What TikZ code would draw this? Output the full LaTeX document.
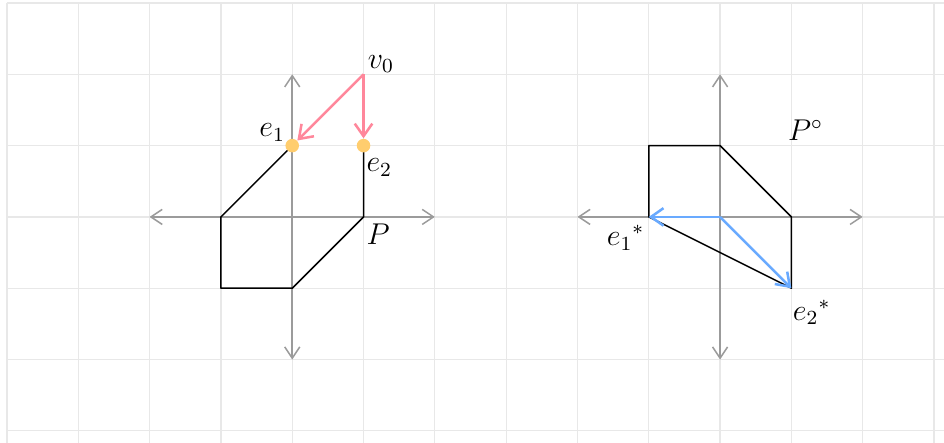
\documentclass[tikz,border=0pt]{standalone}
\usepackage{amsmath,amssymb}
\usepackage{tikz}
\usetikzlibrary{arrows.meta,positioning,calc}
\usepackage{xcolor}
\definecolor{cGrid}{RGB}{232,232,232}
\definecolor{cAxis}{RGB}{155,155,155}
\definecolor{cPink}{RGB}{255,135,155}
\definecolor{cDot}{RGB}{255,205,110}
\definecolor{cSky}{RGB}{105,170,255}
\tikzset{
  gridline/.style={draw=cGrid,line width=0.5pt},
  axisarr/.style={{Straight Barb[length=4.5pt,width=6pt]}-{Straight Barb[length=4.5pt,width=6pt]},
                  draw=cAxis,line width=0.6pt},
  polyline/.style={draw=black,line width=0.6pt,line join=round},
  pinkarr/.style={-{Straight Barb[length=5pt,width=7pt]},draw=cPink,line width=1pt},
  skyarr/.style={-{Straight Barb[length=5pt,width=7pt]},draw=cSky,line width=1pt},
  vdot/.style={circle,fill=cDot,inner sep=0pt,minimum size=5.4pt},
  lbl/.style={inner sep=1pt,font=\large}
}

\begin{document}
\begin{tikzpicture}
  % page and grid
  \useasboundingbox (-4.098,-3.157) rectangle (9.14,3.042);
  \fill[white] (-4.098,-3.157) rectangle (9.14,3.042);
  \clip (-4.098,-3.157) rectangle (9.14,3.042);
  \foreach \x in {-4,...,9} \draw[gridline] (\x,-3.2) -- (\x,3);
  \foreach \y in {-3,...,3} \draw[gridline] (-4,\y) -- (9.2,\y);

  % left: P
  \coordinate (lW) at (-2,0);  \coordinate (lE) at (2,0);
  \coordinate (lS) at (0,-2);  \coordinate (lN) at (0,2);
  \draw[axisarr] (lW) -- (lE);
  \draw[axisarr] (lS) -- (lN);
  \coordinate (pa) at (0,1);   \coordinate (pb) at (-1,0);
  \coordinate (pc) at (-1,-1); \coordinate (pd) at (0,-1);
  \coordinate (pe) at (1,0);   \coordinate (pf) at (1,1);
  \draw[polyline] (pa) -- (pb) -- (pc) -- (pd) -- (pe) -- (pf);
  \node[vdot] (e1) at (pa) {};
  \node[vdot] (e2) at (pf) {};
  \coordinate (v0) at (1,2);
  \draw[pinkarr] (v0) -- (e1);
  \draw[pinkarr] (v0) -- (e2);
  \node[lbl,anchor=south west] (v0lbl) at (1.02,1.98) {$v_0$};
  \node[lbl,anchor=south east] (e1lbl) at (-0.06,1.02) {$e_1$};
  \node[lbl,anchor=north west] (e2lbl) at (1.0,0.86) {$e_2$};
  \node[lbl,anchor=north west] (plbl) at (1,-0.06) {$P$};

  % right: polar of P
  \coordinate (o) at (6,0);
  \coordinate (rW) at (4,0);  \coordinate (rE) at (8,0);
  \coordinate (rS) at (6,-2); \coordinate (rN) at (6,2);
  \draw[axisarr] (rW) -- (rE);
  \draw[axisarr] (rS) -- (rN);
  \coordinate (qa) at (5,0);  \coordinate (qb) at (5,1);
  \coordinate (qc) at (6,1);  \coordinate (qd) at (7,0);
  \coordinate (qe) at (7,-1);
  \draw[polyline] (qa) -- (qb) -- (qc) -- (qd) -- (qe) -- cycle;
  \draw[skyarr] (o) -- (qa);
  \draw[skyarr] (o) -- (qe);
  \node[lbl] (pclbl) at (7.2,1.22) {$P^\circ$};
  \node[lbl,anchor=north east] (e1slbl) at (4.98,-0.08) {${e_1}^*$};
  \node[lbl,anchor=north west] (e2slbl) at (6.98,-1.12) {${e_2}^*$};
\end{tikzpicture}
\end{document}
